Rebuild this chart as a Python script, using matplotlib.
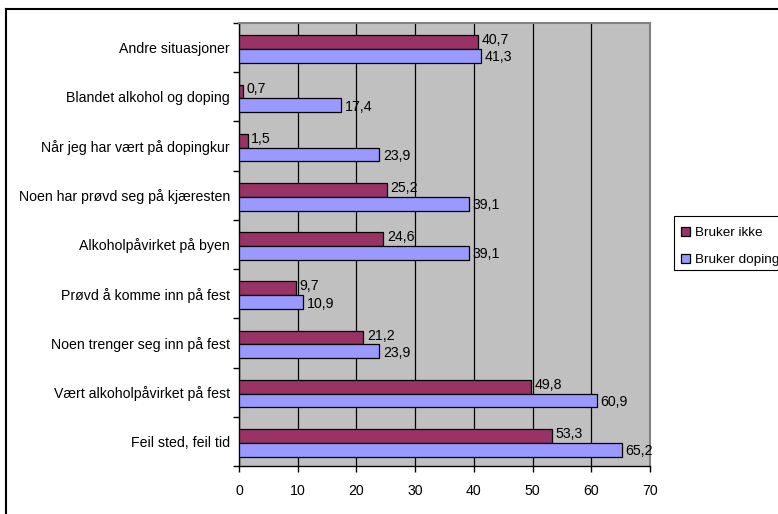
import matplotlib
matplotlib.use("Agg")
import matplotlib.pyplot as plt
import numpy as np
from matplotlib.patches import Rectangle

plt.rcParams['font.family'] = ['Liberation Sans', 'DejaVu Sans']

categories = [
    "Andre situasjoner",
    "Blandet alkohol og doping",
    "Når jeg har vært på dopingkur",
    "Noen har prøvd seg på kjæresten",
    "Alkoholpåvirket på byen",
    "Prøvd å komme inn på fest",
    "Noen trenger seg inn på fest",
    "Vært alkoholpåvirket på fest",
    "Feil sted, feil tid",
]
bruker_ikke = [40.7, 0.7, 1.5, 25.2, 24.6, 9.7, 21.2, 49.8, 53.3]
bruker_doping = [41.3, 17.4, 23.9, 39.1, 39.1, 10.9, 23.9, 60.9, 65.2]
series_names = ["Bruker ikke", "Bruker doping"]
x_ticks = [0, 10, 20, 30, 40, 50, 60, 70]

FS = 10.2
W, H = 778, 514

fig = plt.figure(figsize=(W / 100, H / 100), dpi=100)
ax = fig.add_axes([239 / W, 1 - 466 / H, (650 - 239) / W, (466 - 23) / H])

n = len(categories)
pos = np.arange(n) + 0.03  # 0 at top
bar_h = 0.28
ax.barh(pos - bar_h / 2, bruker_ikke, height=bar_h, color="#993366",
        edgecolor="black", linewidth=0.9, label=series_names[0], zorder=3)
ax.barh(pos + bar_h / 2, bruker_doping, height=bar_h, color="#9999FF",
        edgecolor="black", linewidth=0.9, label=series_names[1], zorder=3)

def fmt(v):
    return f"{v:.1f}".replace(".", ",")

for i in range(n):
    ax.text(bruker_ikke[i] + 0.6, pos[i] - bar_h / 2 - 0.04, fmt(bruker_ikke[i]),
            va="center", ha="left", fontsize=FS, zorder=4)
    ax.text(bruker_doping[i] + 0.6, pos[i] + bar_h / 2 + 0.03, fmt(bruker_doping[i]),
            va="center", ha="left", fontsize=FS, zorder=4)

ax.set_xlim(0, 70)
ax.set_ylim(n - 0.5, -0.5)
ax.set_facecolor("#C0C0C0")
ax.set_xticks(x_ticks)
ax.set_xticklabels([str(t) for t in x_ticks], fontsize=FS)
ax.set_yticks(np.arange(n))
ax.set_yticklabels(categories, fontsize=FS)
ax.set_yticks(np.arange(n + 1) - 0.5, minor=True)
ax.tick_params(axis="y", which="major", length=0, pad=6.5)
ax.tick_params(axis="y", which="minor", length=4, width=1, direction="out")
ax.tick_params(axis="x", length=4, width=1, direction="out", pad=9)
ax.xaxis.grid(True, color="black", linewidth=0.9, zorder=1)
ax.set_axisbelow(True)

for side in ["top", "right"]:
    ax.spines[side].set_color("#808080")
    ax.spines[side].set_linewidth(1.5)
for side in ["left", "bottom"]:
    ax.spines[side].set_color("black")
    ax.spines[side].set_linewidth(1.0)

# legend box drawn separately so it can run past the right edge
fig.add_artist(Rectangle((674 / W, 1 - 270 / H), 130 / W, 54 / H,
                         transform=fig.transFigure, facecolor="white",
                         edgecolor="black", linewidth=0.8))
leg = fig.legend(loc="upper left", bbox_to_anchor=(677 / W, 1 - 223 / H),
                 frameon=False, fontsize=9.7, handlelength=0.7,
                 handleheight=0.7, handletextpad=0.3, borderpad=0.3,
                 labelspacing=1.05, borderaxespad=0)

# outer chart border (top and left)
fig.add_artist(plt.Line2D([6 / W, 6 / W], [0, 1 - 9 / H], color="black",
                          linewidth=1.5, transform=fig.transFigure))
fig.add_artist(plt.Line2D([6 / W, 1], [1 - 9 / H, 1 - 9 / H], color="black",
                          linewidth=1.5, transform=fig.transFigure))

fig.savefig("out.png", dpi=100)
